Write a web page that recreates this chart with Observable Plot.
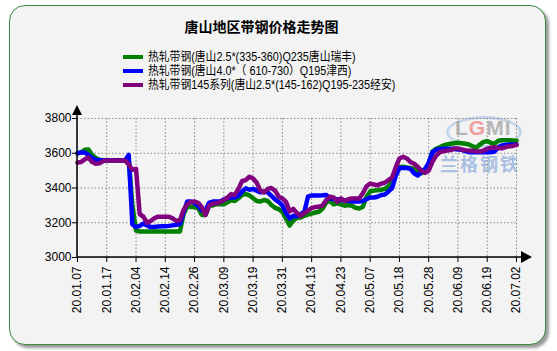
<!DOCTYPE html>
<html><head><meta charset="utf-8">
<script src="https://cdn.jsdelivr.net/npm/d3@7"></script>
<script src="https://cdn.jsdelivr.net/npm/@observablehq/plot@0.6"></script>
<style>
html,body{margin:0;padding:0;background:#fff;}
#wrap{position:relative;width:557px;height:351px;overflow:hidden;font-family:"Noto Sans CJK SC","Noto Sans",sans-serif;}
#panel{position:absolute;left:9px;top:5px;width:535px;height:338px;border:1.5px solid #3b8a3b;border-radius:16px;background:#f3f3f3;box-shadow:3px 3px 3px #9a9a9a;}
#title{position:absolute;left:0;width:523px;top:16px;text-align:center;font-size:14px;line-height:20px;font-weight:bold;color:#000;}
.row{position:absolute;left:123px;height:14px;line-height:14px;display:flex;align-items:center;font-family:"Liberation Sans","Noto Sans CJK SC",sans-serif;font-size:12px;color:#000;white-space:nowrap;}
.row .tx{display:inline-block;line-height:13px;transform:scaleX(0.9);transform-origin:left center;}
.sw{width:20px;height:4px;margin-right:5px;flex:none;}
#wm1{position:absolute;left:446px;top:116px;width:70px;height:26px;border:3px solid #b9cde8;border-radius:50%;opacity:.8;}
#wm1 span{position:absolute;left:6px;top:-3px;font:bold 21px "Liberation Sans",Arial;color:#a9a9a9;letter-spacing:1px;}
#wm1 b{color:#f08a8a;}
#wm2{position:absolute;left:440px;top:153px;font-size:18px;line-height:20px;font-weight:bold;color:#a9c0e2;letter-spacing:2px;}
#chart{position:absolute;left:0;top:100px;}
</style></head>
<body><div id="wrap">
<div id="panel"></div>
<div id="title">唐山地区带钢价格走势图</div>
<div id="legend"></div>
<div id="wm1"><span>L<b>G</b>MI</span></div>
<div id="wm2">兰格钢铁</div>
<div id="chart"></div>
</div>
<script>
const seriesNames = ["热轧带钢(唐山2.5*(335-360)Q235唐山瑞丰)","热轧带钢(唐山4.0*（ 610-730）Q195津西)","热轧带钢145系列(唐山2.5*(145-162)Q195-235经安)"];
const seriesColors = ["#008000","#0000ff","#800080"];
const tickLabels = ["20.01.07","20.01.17","20.02.04","20.02.14","20.02.26","20.03.09","20.03.19","20.03.31","20.04.13","20.04.23","20.05.07","20.05.18","20.05.28","20.06.09","20.06.19","20.07.02"];
const tickStep = 8;
const yTicks = [3000,3200,3400,3600,3800];

const green = [3600,3605,3620,3622,3590,3572,3562,3560,3560,3560,3560,3560,3560,3560,3560,3300,3155,3150,3150,3150,
3150,3150,3150,3150,3150,3150,3150,3150,3150,3250,3295,3290,3290,3283,3245,3245,3300,3300,3308,3306,
3306,3318,3331,3325,3341,3361,3365,3357,3341,3325,3322,3331,3325,3302,3286,3278,3263,3224,3184,3214,
3228,3230,3240,3247,3253,3259,3263,3282,3318,3325,3306,3312,3306,3298,3302,3298,3286,3282,3292,3350,
3380,3385,3387,3390,3395,3410,3435,3480,3520,3522,3518,3515,3510,3490,3485,3495,3540,3610,3625,3635,
3645,3650,3655,3658,3660,3658,3655,3650,3640,3632,3650,3665,3670,3660,3655,3672,3675,3675,3675,3674,3672];
const blue = [3600,3605,3604,3590,3572,3562,3560,3560,3560,3560,3560,3560,3560,3560,3590,3190,3175,3182,3195,3185,
3175,3175,3178,3180,3180,3182,3185,3188,3192,3260,3322,3322,3312,3297,3270,3274,3316,3322,3322,3322,
3335,3341,3345,3345,3355,3380,3398,3390,3395,3385,3375,3378,3375,3355,3335,3320,3300,3255,3225,3240,
3238,3250,3262,3350,3357,3357,3357,3358,3360,3340,3335,3335,3330,3328,3326,3322,3322,3322,3325,3335,
3345,3345,3350,3360,3362,3380,3400,3470,3515,3515,3515,3510,3485,3472,3490,3510,3545,3605,3620,3625,
3626,3626,3626,3625,3622,3620,3612,3606,3606,3606,3606,3606,3606,3606,3610,3633,3645,3648,3650,3650,3650];
const purple = [3546,3550,3565,3575,3550,3540,3542,3555,3558,3558,3558,3558,3558,3558,3535,3505,3510,3250,3235,3200,
3210,3226,3235,3235,3235,3235,3225,3210,3215,3275,3305,3320,3322,3315,3290,3245,3300,3310,3312,3320,
3330,3345,3365,3360,3395,3440,3445,3465,3455,3430,3385,3375,3395,3400,3385,3350,3340,3320,3265,3280,
3255,3240,3255,3270,3285,3290,3292,3300,3330,3350,3345,3320,3340,3325,3335,3340,3340,3340,3370,3410,
3425,3420,3415,3425,3430,3445,3460,3520,3570,3580,3570,3550,3540,3522,3500,3487,3500,3550,3585,3605,
3612,3615,3618,3628,3627,3622,3618,3615,3615,3612,3610,3615,3625,3632,3634,3630,3628,3635,3640,3642,3648];
const seriesValues = [green, blue, purple];

// legend
const legend = document.getElementById("legend");
seriesNames.forEach((n, k) => {
  const r = document.createElement("div");
  r.className = "row";
  r.style.top = (50 + k * 14) + "px";
  r.innerHTML = `<span class="sw" style="background:${seriesColors[k]}"></span><span class="tx">${n}</span>`;
  legend.appendChild(r);
});

const tickIdx = tickLabels.map((_, k) => k * tickStep);
const chart = Plot.plot({
  width: 557, height: 251,
  marginLeft: 77, marginRight: 41, marginTop: 18, marginBottom: 94,
  style: {background: "transparent", fontFamily: "'Liberation Sans', Arial, sans-serif", fontSize: "12px", overflow: "visible"},
  x: {domain: [0, (tickLabels.length - 1) * tickStep]},
  y: {domain: [yTicks[0], yTicks[yTicks.length - 1]]},
  marks: [
    Plot.gridX(tickIdx, {stroke: "#8a8a8a", strokeOpacity: 1, strokeDasharray: "1.5,2"}),
    Plot.gridY(yTicks, {stroke: "#8a8a8a", strokeOpacity: 1, strokeDasharray: "1.5,2"}),
    ...seriesValues.map((s, k) => Plot.lineY(s, {stroke: seriesColors[k], strokeWidth: 4.5, strokeLinejoin: "round", strokeLinecap: "round"})),
    Plot.axisY(yTicks, {tickSize: 5, tickPadding: 1, fontSize: 12, fill: "#000", stroke: "#000", tickFormat: (d) => String(d)}),
    Plot.axisX(tickIdx, {tickSize: 5, tickPadding: 4, tickRotate: -90, fontSize: 12, fill: "#000", stroke: "#000", tickFormat: (d) => tickLabels[d / tickStep]})
  ]
});
document.getElementById("chart").appendChild(chart);

// axis lines + arrowheads derived from scales
const xs = chart.scale("x"), ys = chart.scale("y");
const x0 = xs.range[0], x1 = xs.range[1], yb = ys.range[0], yt = ys.range[1];
const svg = d3.select(chart);
const g = svg.append("g");
g.append("line").attr("x1", x0).attr("x2", x1 + 6).attr("y1", yb).attr("y2", yb).attr("stroke", "#000").attr("stroke-width", 1.5);
g.append("line").attr("x1", x0).attr("x2", x0).attr("y1", yb).attr("y2", yt - 3).attr("stroke", "#000").attr("stroke-width", 1.5);
g.append("path").attr("d", `M${x1 + 5},${yb - 6}L${x1 + 16},${yb}L${x1 + 5},${yb + 6}Z`).attr("fill", "#000");
g.append("path").attr("d", `M${x0 - 5},${yt - 3}L${x0},${yt - 13}L${x0 + 5},${yt - 3}Z`).attr("fill", "#000");
</script>
</body></html>
